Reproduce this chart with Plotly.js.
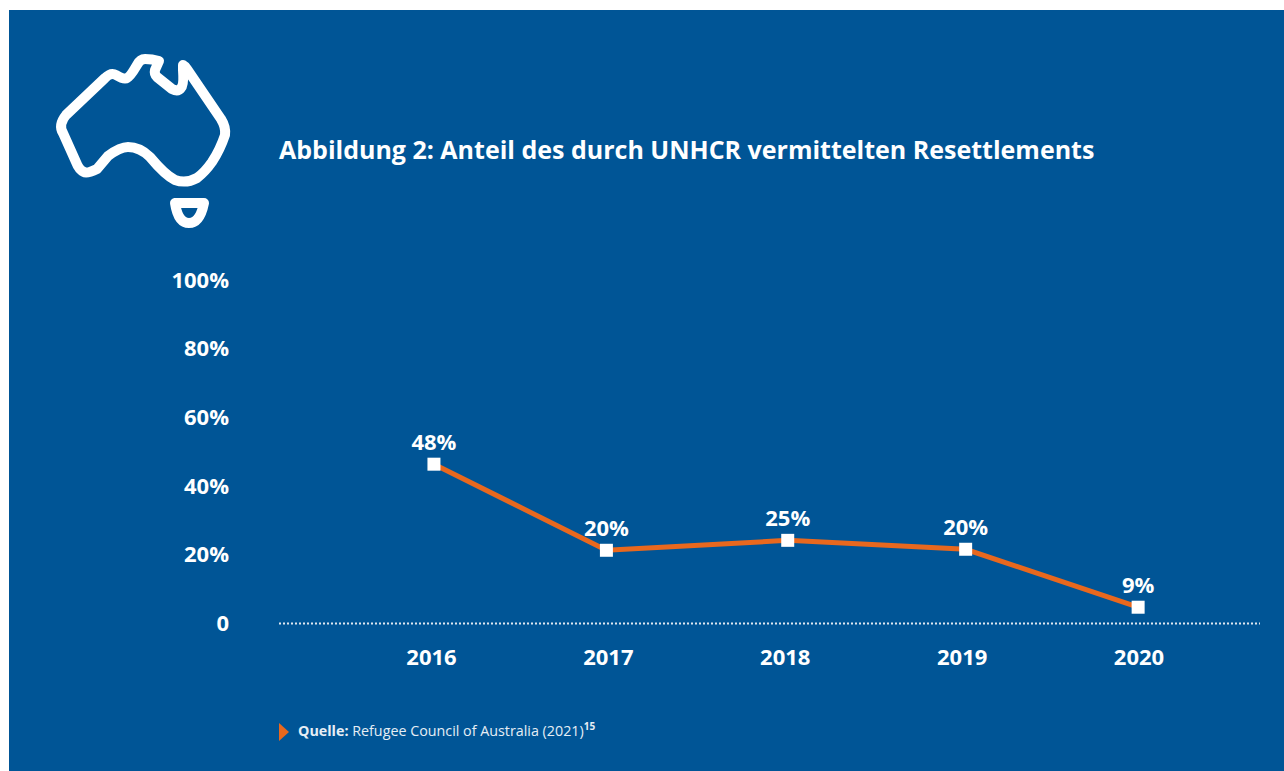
<!DOCTYPE html>
<html>
<head>
<meta charset="utf-8">
<script src="https://cdn.plot.ly/plotly-3.0.1.min.js"></script>
<style>html,body{margin:0;padding:0;background:#fff}</style>
</head>
<body>
<div id="chart" style="width:1284px;height:771px"></div>
<script>
const years = [2016, 2017, 2018, 2019, 2020];
const yearLabels = ["2016", "2017", "2018", "2019", "2020"];
const pointX = [2016.014, 2016.989, 2018.014, 2019.02, 2019.995];
const pointY = [46.3, 21.2, 24.1, 21.5, 4.6];
const pointLabels = ["48%", "20%", "25%", "20%", "9%"];
const yTicks = [0, 20, 40, 60, 80, 100];
const yTickLabels = ["0", "20%", "40%", "60%", "80%", "100%"];

const W = 1284, H = 771;
const BLUE = "#005596", ORANGE = "#E8681E";
const FONT = "'Open Sans','Noto Sans',sans-serif";

const M = {l: 279, r: 24, t: 280, b: 148};
const paperX = x => (x - M.l) / (W - M.l - M.r);
const paperY = y => 1 - (y - M.t) / (H - M.t - M.b);

const iconSvg = `<svg xmlns="http://www.w3.org/2000/svg" width="1284" height="771" viewBox="0 0 1284 771"><g fill="none" stroke="#fff" stroke-width="10" stroke-linejoin="round" stroke-linecap="round"><path d="M66,115 L105,78 Q111,72 116,75 Q124,80 127,78 Q130,77 137,65 Q140,59 145,59 Q152,59 159,61 L155,70 Q154,74 157,77 L172,89 Q178,92 181,88 Q184,85 183,70 L183,65 Q185,66 187,69 L221,119 Q226,127 225,135 Q220,150 212,162 Q205,172 197,178 Q186,184 175,180 Q165,175 150,157 Q140,147 128,147 Q120,147 108,156 L97,169 Q87,174 84,172 Q79,170 76,162 L63,133 Q58,125 66,115 Z"/><path d="M175,203 L204,203 Q200,223 189,223 Q178,223 175,203 Z"/></g></svg>`;

const trace = {
  x: pointX, y: pointY, text: pointLabels,
  type: "scatter", mode: "lines+markers+text",
  line: {color: ORANGE, width: 5},
  marker: {symbol: "square", size: 13, color: "#fff"},
  textposition: "top center",
  textfont: {family: FONT, size: 22, color: "#fff", weight: 700},
  cliponaxis: false, hoverinfo: "skip", showlegend: false
};

const layout = {
  width: W, height: H,
  margin: M,
  paper_bgcolor: "#fff", plot_bgcolor: "rgba(0,0,0,0)",
  font: {family: FONT, color: "#fff"},
  showlegend: false,
  title: {
    text: "<b>Abbildung 2: Anteil des durch UNHCR vermittelten Resettlements</b>",
    xref: "paper", yref: "container", x: 0, xanchor: "left",
    y: 1 - 150 / H, yanchor: "middle",
    font: {family: FONT, size: 25, color: "#fff"}
  },
  xaxis: {
    range: [2015.138, 2020.684], tickmode: "array", tickvals: years, ticktext: yearLabels,
    showgrid: false, zeroline: false, showline: false, ticks: "",
    ticklabelstandoff: 19,
    tickfont: {family: FONT, size: 22, color: "#fff", weight: 700}
  },
  yaxis: {
    range: [0, 100], tickmode: "array", tickvals: yTicks, ticktext: yTickLabels,
    showgrid: false, zeroline: false, showline: false, ticks: "",
    ticklabelstandoff: 49,
    tickfont: {family: FONT, size: 22, color: "#fff", weight: 700}
  },
  shapes: [
    {type: "rect", xref: "paper", yref: "paper", layer: "below",
     x0: paperX(9), x1: paperX(W), y0: paperY(H), y1: paperY(10),
     fillcolor: BLUE, line: {width: 0}},
    {type: "line", xref: "paper", yref: "paper", layer: "below",
     x0: 0, x1: 1, y0: paperY(623.5), y1: paperY(623.5),
     line: {color: "#dfe8f0", width: 2, dash: "2px,2px"}},
    {type: "path", xref: "paper", yref: "paper", layer: "above",
     path: `M${paperX(279)},${paperY(723)} L${paperX(289)},${paperY(732)} L${paperX(279)},${paperY(741)} Z`,
     fillcolor: ORANGE, line: {width: 0}}
  ],
  images: [{
    source: "data:image/svg+xml;utf8," + encodeURIComponent(iconSvg),
    xref: "paper", yref: "paper", layer: "above",
    x: paperX(0), y: paperY(0), sizex: W / (W - M.l - M.r), sizey: H / (H - M.t - M.b),
    xanchor: "left", yanchor: "top", sizing: "stretch"
  }],
  annotations: [{
    xref: "paper", yref: "paper", x: paperX(296), y: paperY(729.5),
    xanchor: "left", yanchor: "middle", showarrow: false, align: "left",
    text: "<b>Quelle:</b> Refugee Council of Australia (2021)<sup><b>15</b></sup>",
    font: {family: FONT, size: 14.3, color: "#e6eef5"}
  }]
};

Plotly.newPlot("chart", [trace], layout, {displayModeBar: false, staticPlot: true});
</script>
</body>
</html>
